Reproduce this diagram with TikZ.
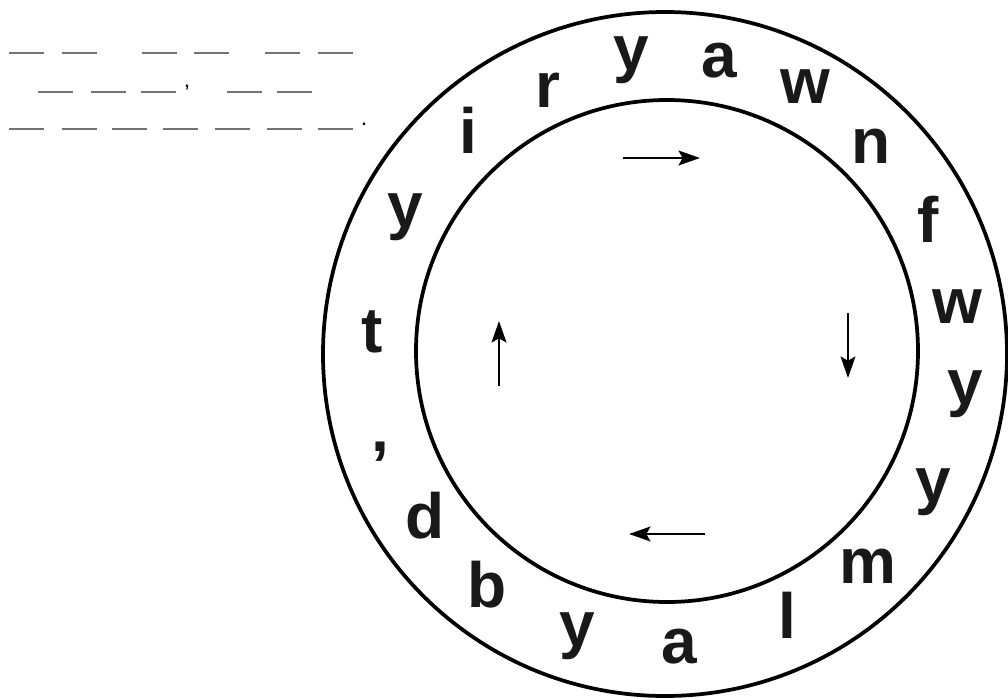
\documentclass[tikz,border=0pt]{standalone}
\usepackage{fontspec}
\setmainfont{Liberation Sans}
\usetikzlibrary{arrows.meta}
\begin{document}
\begin{tikzpicture}[x=0.75pt,y=-0.75pt,
  ring/.style={line width=2.8pt,black},
  lett/.style={anchor=base,inner sep=0pt,text=black!90,font=\fontsize{48}{48}\selectfont\bfseries},
  flow/.style={line width=2.2pt,-{Stealth[length=16pt,width=11pt,inset=3pt]}},
  blank/.style={line width=1.8pt,black!55},
  punct/.style={inner sep=0pt,anchor=base,font=\fontsize{12}{12}\selectfont\bfseries}]
\useasboundingbox (0,0) rectangle (1008,700);
% rings
\coordinate (Oo) at (665,354);
\coordinate (Oi) at (667,351);
\draw[ring] (Oo) circle[radius=342];
\draw[ring] (Oi) circle[radius=251];
% letters
\node[lett] (L1)  at (631,70)  {y};
\node[lett] (L2)  at (719,77)  {a};
\node[lett] (L3)  at (805,103) {w};
\node[lett] (L4)  at (871,163) {n};
\node[lett] (L5)  at (928,242) {f};
\node[lett] (L6)  at (957,323) {w};
\node[lett] (L7)  at (965,404) {y};
\node[lett] (L8)  at (933,502) {y};
\node[lett] (L9)  at (868,583) {m};
\node[lett] (L10) at (787,638) {l};
\node[lett] (L11) at (679,663) {a};
\node[lett] (L12) at (577,646) {y};
\node[lett] (L13) at (487,607) {b};
\node[lett] (L14) at (425,538) {d};
\node[lett] (L15) at (380,451) {,};
\node[lett] (L16) at (372,352) {t};
\node[lett] (L17) at (405,227) {y};
\node[lett] (L18) at (468,153) {i};
\node[lett] (L19) at (548,107) {r};
% arrows
\coordinate (a1s) at (623,158); \coordinate (a1e) at (700,158);
\coordinate (a2s) at (848,313); \coordinate (a2e) at (848,378);
\coordinate (a3s) at (705,534); \coordinate (a3e) at (629,534);
\coordinate (a4s) at (499,386); \coordinate (a4e) at (499,321);
\draw[flow] (a1s) -- (a1e);
\draw[flow] (a2s) -- (a2e);
\draw[flow] (a3s) -- (a3e);
\draw[flow] (a4s) -- (a4e);
% blanks
\foreach \x in {9,62,142,194,265,318} \draw[blank] (\x,53) -- ++(35,0);
\foreach \x in {38,91,141,227,277} \draw[blank] (\x,92) -- ++(35,0);
\foreach \x in {9,62,112,163,215,267,318} \draw[blank] (\x,129) -- ++(35,0);
\node[punct] (c1) at (187,87) {,};
\node[punct] (p1) at (364,125) {.};
\end{tikzpicture}
\end{document}
